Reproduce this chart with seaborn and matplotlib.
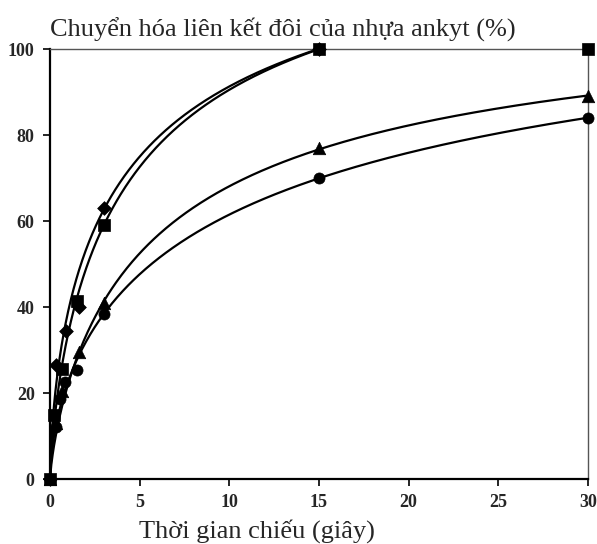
import numpy as np
import pandas as pd
import seaborn as sns
import matplotlib.pyplot as plt

# values
x_diamond = [0, 0.33, 0.9, 1.6, 3, 15]
y_diamond = [0, 26.5, 34.5, 40, 63, 100]

x_square = [0, 0.25, 0.67, 1.5, 3, 15, 30]
y_square = [0, 15, 25.5, 41.5, 59, 100, 100]

x_triangle = [0, 0.33, 0.67, 1.6, 3, 15, 30]
y_triangle = [0, 13, 20.5, 29.5, 41, 77, 89]

x_circle = [0, 0.33, 0.55, 0.85, 1.5, 3, 15, 30]
y_circle = [0, 12, 18.5, 22.5, 25.3, 38.3, 70, 84]

series = [
    ("diamond", x_diamond, y_diamond, "D", 7, 15),
    ("square", x_square, y_square, "s", 8, 15),
    ("triangle", x_triangle, y_triangle, "^", 9, 30),
    ("circle", x_circle, y_circle, "o", 8, 30),
]

xticks = [0, 5, 10, 15, 20, 25, 30]
yticks = [0, 20, 40, 60, 80, 100]


def trend_curve(x, y, xend):
    # saturation trendline y = ymax * x^n / (k^n + x^n), least squares by grid search
    x = np.asarray(x, float)
    y = np.asarray(y, float)
    w = np.where(x >= 3, 25.0, 1.0)  # the drawn curves sit right on the later points
    ns = np.linspace(0.2, 2.0, 181)[:, None, None]
    ks = np.logspace(-1.3, 2.3, 300)[None, :, None]
    xn = x[None, None, :] ** ns
    f = xn / (ks ** ns + xn)
    ymax = (w * f * y).sum(-1) / (w * f * f).sum(-1)
    err = (w * (ymax[..., None] * f - y) ** 2).sum(-1)
    i, j = np.unravel_index(np.argmin(err), err.shape)
    n, k, a = ns[i, 0, 0], ks[0, j, 0], ymax[i, j]
    cx = np.linspace(0, xend, 400)
    cy = a * cx**n / (k**n + cx**n)
    return cx, cy


sns.set_style("white")
plt.rcParams["font.family"] = ["Liberation Serif", "DejaVu Serif"]

fig = plt.figure(figsize=(5.97, 5.44), dpi=100)
ax = fig.add_axes([50 / 597, 65 / 544, 538 / 597, 430 / 544])

for name, xs, ys, mk, ms, xend in series:
    xv = [a for a in xs if a <= xend]
    yv = ys[:len(xv)]
    cx, cy = trend_curve(xv, yv, xend)
    line = pd.DataFrame({"x": cx, "y": cy})
    sns.lineplot(data=line, x="x", y="y", ax=ax, color="black", lw=1.6,
                 sort=False, estimator=None)
    pts = pd.DataFrame({"x": xs, "y": ys})
    sns.scatterplot(data=pts, x="x", y="y", ax=ax, marker=mk, s=ms**2,
                    color="black", edgecolor="black", linewidth=0.5,
                    zorder=5, clip_on=False)

ax.set_xlim(0, 30)
ax.set_ylim(0, 100)
ax.set_xticks(xticks)
ax.set_yticks(yticks)
ax.set_xlabel("")
ax.set_ylabel("")
ax.tick_params(axis="both", direction="out", length=5, width=1.2,
               labelsize=13, pad=6, bottom=True, left=True, color="black")
for lab in ax.get_xticklabels() + ax.get_yticklabels():
    lab.set_fontweight("bold")

for s in ["left", "bottom"]:
    ax.spines[s].set_color("black")
    ax.spines[s].set_linewidth(1.6)
for s in ["top", "right"]:
    ax.spines[s].set_color("#555555")
    ax.spines[s].set_linewidth(1.0)

fig.text(50 / 597, 1 - 30 / 544, "Chuyển hóa liên kết đôi của nhựa ankyt (%)",
         fontsize=19, va="center", ha="left")
fig.text(257 / 597, 1 - 531 / 544, "Thời gian chiếu (giây)",
         fontsize=19, va="center", ha="center")

fig.savefig("out.png", dpi=100)
